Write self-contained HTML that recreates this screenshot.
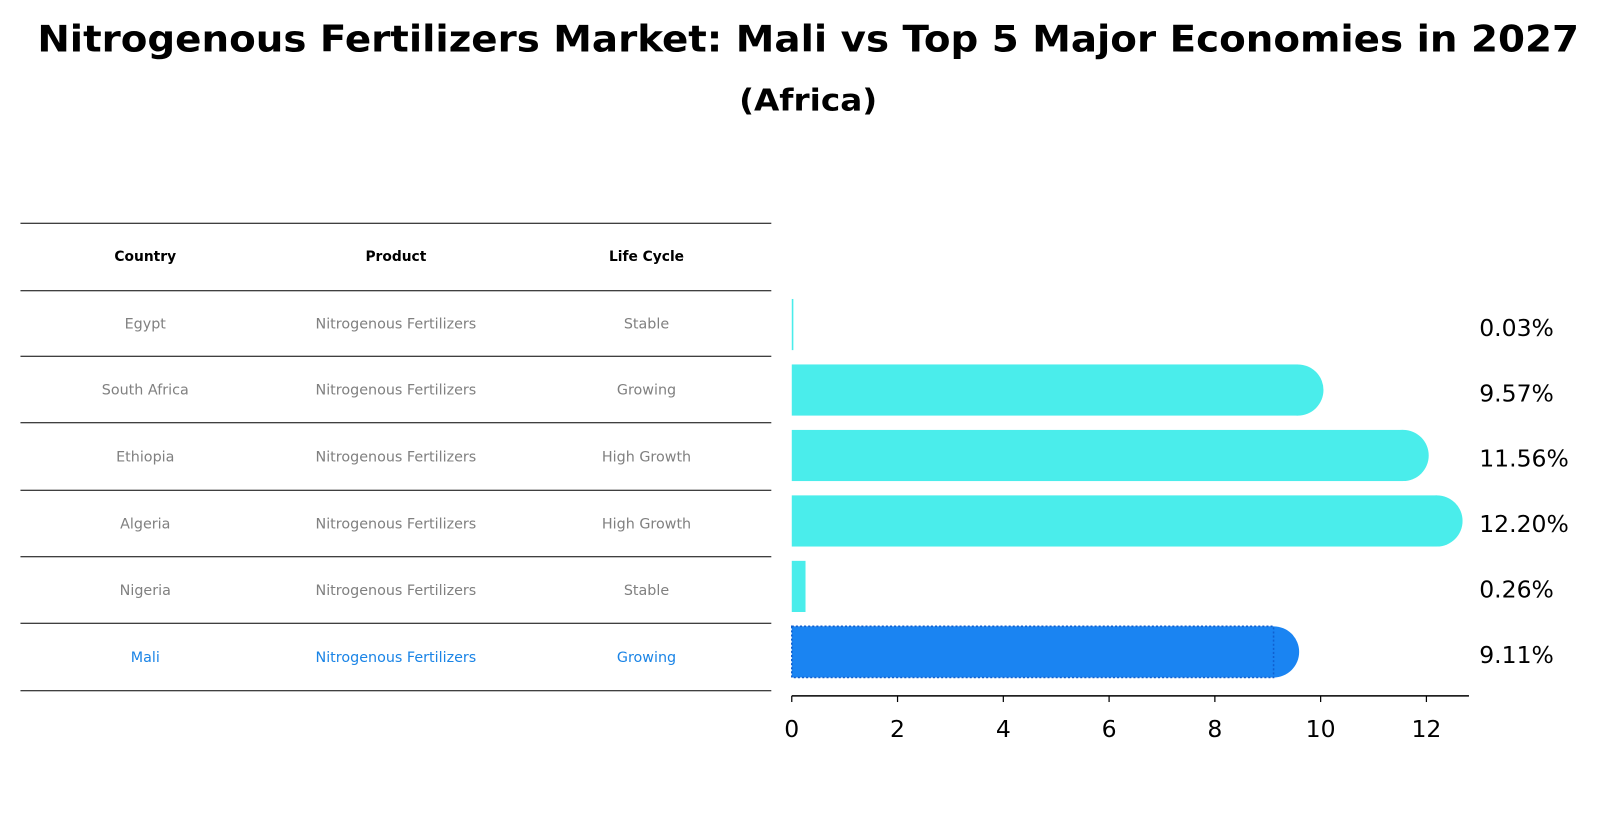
<!DOCTYPE html>
<html><head><meta charset="utf-8"><style>
body{margin:0;background:#fff;font-family:"Liberation Sans","DejaVu Sans",sans-serif;}
svg text{font-family:"DejaVu Sans","Liberation Sans",sans-serif;}
</style></head><body>
<svg id="chart" width="1604" height="823" viewBox="0 0 1568 804" xmlns="http://www.w3.org/2000/svg">
<text x="790" y="50" text-anchor="middle" font-size="36" font-weight="bold" textLength="1507" lengthAdjust="spacingAndGlyphs">Nitrogenous Fertilizers Market: Mali vs Top 5 Major Economies in 2027</text>
<text x="790" y="108" text-anchor="middle" font-size="30" font-weight="bold" textLength="135" lengthAdjust="spacingAndGlyphs">(Africa)</text>
<g id="table"></g>
<g id="bars"></g>
<g id="axis"></g>
</svg>
<script>
const countries=["Egypt","South Africa","Ethiopia","Algeria","Nigeria","Mali"];
const products=["Nitrogenous Fertilizers","Nitrogenous Fertilizers","Nitrogenous Fertilizers","Nitrogenous Fertilizers","Nitrogenous Fertilizers","Nitrogenous Fertilizers"];
const lifeCycles=["Stable","Growing","High Growth","High Growth","Stable","Growing"];
const values=[0.03,9.57,11.56,12.20,0.26,9.11];
const valueLabels=["0.03%","9.57%","11.56%","12.20%","0.26%","9.11%"];
const ticks=[0,2,4,6,8,10,12];

const NS="http://www.w3.org/2000/svg";
function mk(tag,attrs,parent){const e=document.createElementNS(NS,tag);for(const k in attrs)e.setAttribute(k,attrs[k]);parent.appendChild(e);return e;}
const xs=v=>774+v*51.7;
const rowY=i=>317+i*64;

const table=document.getElementById('table');
const lines=[218,284,348,413,479,544,609,675];
lines.forEach(y=>{const l=mk('line',{x1:20,x2:754,y1:y,y2:y,stroke:'#000','stroke-width':1},table);

});
const colX=[142,387,632];
["Country","Product","Life Cycle"].forEach((h,j)=>{const t=mk('text',{x:colX[j],y:255,'text-anchor':'middle','font-size':13.5,'font-weight':'bold'},table);t.textContent=h;

});
countries.forEach((c,i)=>{
 const col=c==="Mali"?"#1a84e6":"#808080";
 const y=(lines[i+1]+lines[i+2])/2+5;
 [c,products[i],lifeCycles[i]].forEach((txt,j)=>{const t=mk('text',{x:colX[j],y:y,'text-anchor':'middle','font-size':14},table);t.setAttribute('fill',col);t.textContent=txt;
 
 });
});

const bars=document.getElementById('bars');
values.forEach((v,i)=>{
 const mali=countries[i]==="Mali";
 const fill=mali?"#1a84f2":"#4aedeb";
 const cy=rowY(i), h=50, x0=xs(0), x1=xs(v);
 const g=mk('g',{},bars);
 
 
 mk('rect',{x:x0,y:cy-h/2,width:Math.max(x1-x0,1.5),height:h,fill:fill},g);
 if(v>1) mk('circle',{cx:x1,cy:cy,r:h/2,fill:fill},g);
 if(mali){mk('rect',{x:x0,y:cy-h/2,width:x1-x0,height:h,fill:'none',stroke:'#1060d0','stroke-width':1.5,'stroke-dasharray':'2,2'},g);}
 const t=mk('text',{x:1446,y:cy+11,'font-size':23},bars);t.textContent=valueLabels[i];
 
 
});

const axis=document.getElementById('axis');
mk('line',{x1:774,x2:1436,y1:680,y2:680,stroke:'#000','stroke-width':1.5},axis);
ticks.forEach(v=>{
 mk('line',{x1:xs(v),x2:xs(v),y1:680,y2:686,stroke:'#000','stroke-width':1.2},axis);
 const t=mk('text',{x:xs(v),y:720,'text-anchor':'middle','font-size':23},axis);t.textContent=v;
 
 
});
</script>
</body></html>
